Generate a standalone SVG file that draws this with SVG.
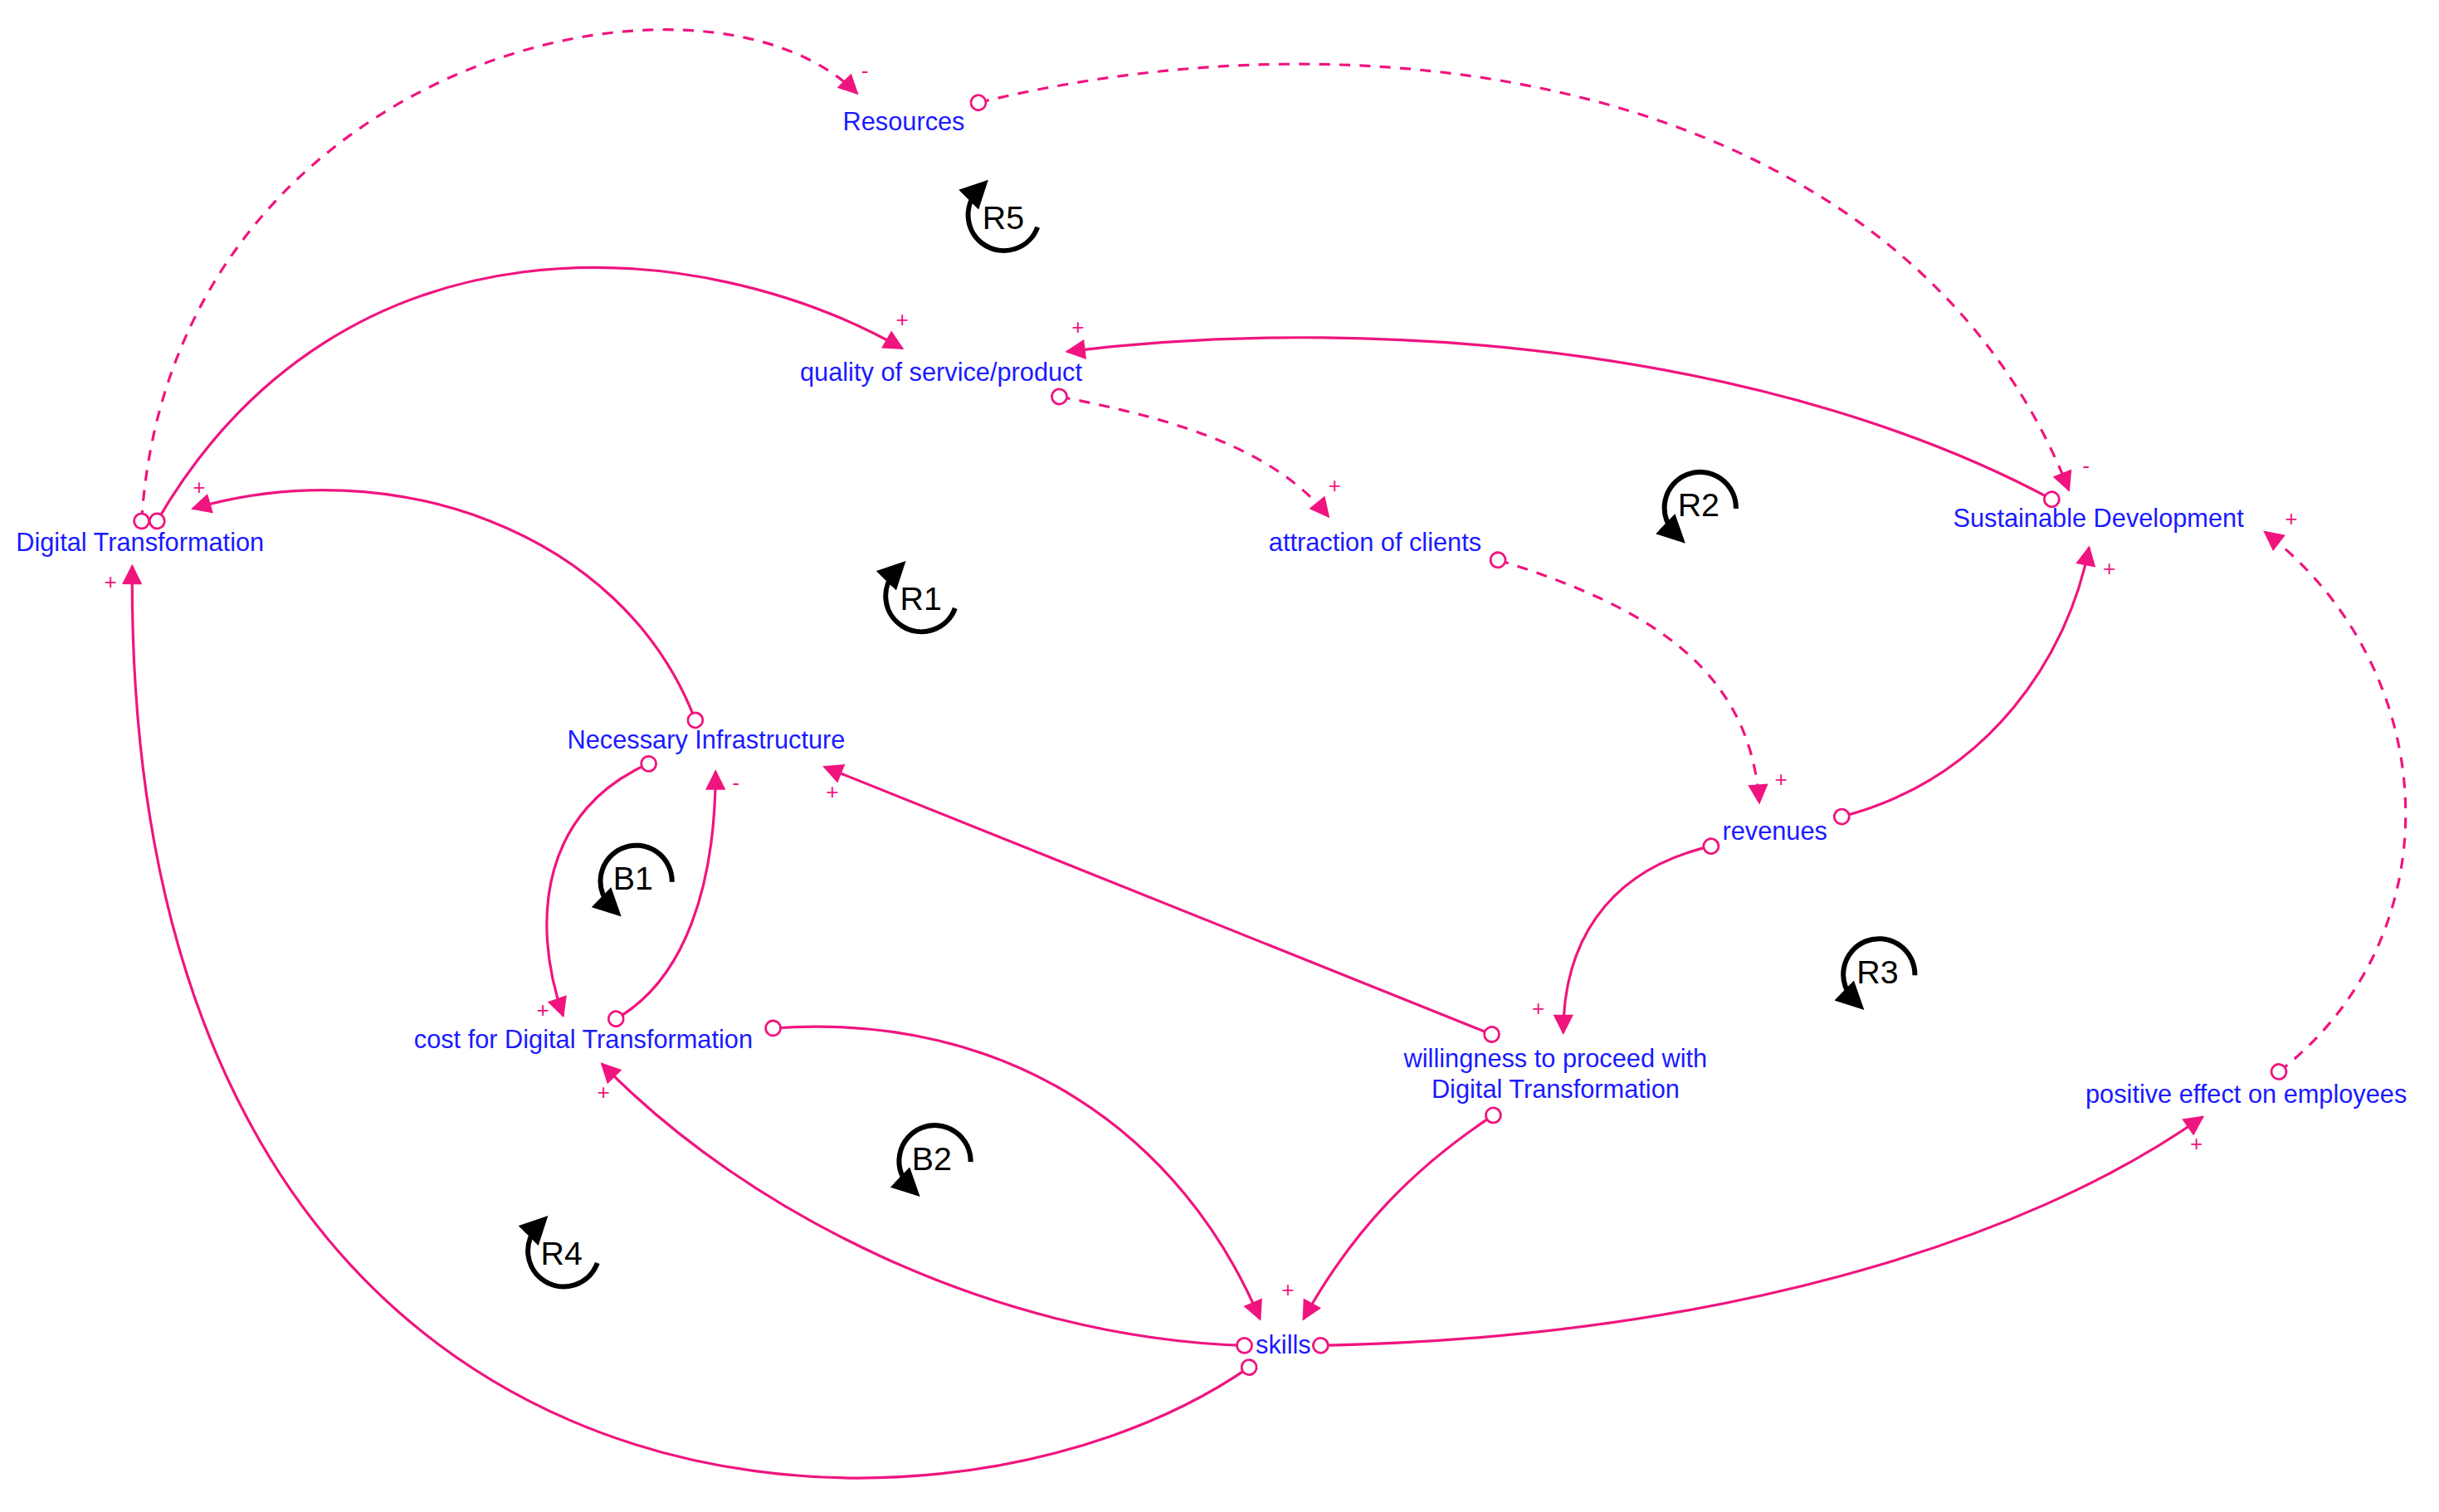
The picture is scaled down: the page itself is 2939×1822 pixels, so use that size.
<svg xmlns="http://www.w3.org/2000/svg" width="2939" height="1822" viewBox="0 0 2939 1822">
<style>
.l{fill:none;stroke:#f0147f;stroke-width:1.7}
.d{stroke-dasharray:7 6}
.t{font-family:"Liberation Sans",Arial,sans-serif;font-size:16.4px;fill:#1a1aff;text-anchor:middle}
.s{font-family:"Liberation Sans",Arial,sans-serif;font-size:14px;fill:#f0147f;text-anchor:middle}
.lp{font-family:"Liberation Sans",Arial,sans-serif;font-size:21px;fill:#000;text-anchor:middle}
.la{fill:none;stroke:#000;stroke-width:3.2}
</style>
<defs>
<marker id="a" viewBox="0 0 10 10" refX="9" refY="5" markerWidth="14" markerHeight="13" markerUnits="userSpaceOnUse" orient="auto"><path d="M0,0 L10,5 L0,10 z" fill="#f0147f"/></marker>
<marker id="o" viewBox="0 0 12 12" refX="6" refY="6" markerWidth="12" markerHeight="12" markerUnits="userSpaceOnUse" orient="auto"><circle cx="6" cy="6" r="4.8" fill="#fff" stroke="#f0147f" stroke-width="1.5"/></marker>
<marker id="k" viewBox="0 0 10 10" refX="5" refY="5" markerWidth="18" markerHeight="18" markerUnits="userSpaceOnUse" orient="auto"><path d="M0,0 L10,5 L0,10 z" fill="#000"/></marker>
<g id="ccw"><path class="la" d="M24,6 A23 23 0 1 1 -14,-18" marker-end="url(#k)"/></g>
<g id="cw"><path class="la" d="M24,2 A23 23 0 1 0 -15,18" marker-end="url(#k)"/></g>
</defs>
<rect width="2939" height="1822" fill="#fff"/>
<g transform="scale(1.8744)">
<g id="connectors">
<path class="l d" d="M91,335 C110,40 450,-40 551,60" marker-start="url(#o)" marker-end="url(#a)"/>
<path class="l d" d="M629,66 C900,0 1230,60 1330,315" marker-start="url(#o)" marker-end="url(#a)"/>
<path class="l" d="M101,335 C220,130 450,150 580,224" marker-start="url(#o)" marker-end="url(#a)"/>
<path class="l" d="M1319,321 C1150,230 900,200 686,226" marker-start="url(#o)" marker-end="url(#a)"/>
<path class="l d" d="M681,255 C760,270 820,290 854,332" marker-start="url(#o)" marker-end="url(#a)"/>
<path class="l d" d="M963,360 C1060,390 1125,430 1131,516" marker-start="url(#o)" marker-end="url(#a)"/>
<path class="l" d="M1184,525 C1280,500 1330,420 1343,352" marker-start="url(#o)" marker-end="url(#a)"/>
<path class="l" d="M447,463 C400,340 250,290 124,327" marker-start="url(#o)" marker-end="url(#a)"/>
<path class="l" d="M417,491 C350,520 340,590 362,653" marker-start="url(#o)" marker-end="url(#a)"/>
<path class="l" d="M396,655 C440,630 460,570 460,496" marker-start="url(#o)" marker-end="url(#a)"/>
<path class="l" d="M959,665 L530,493" marker-start="url(#o)" marker-end="url(#a)"/>
<path class="l" d="M1100,544 C1030,560 1005,610 1005,664" marker-start="url(#o)" marker-end="url(#a)"/>
<path class="l" d="M497,661 C650,650 760,730 810,848" marker-start="url(#o)" marker-end="url(#a)"/>
<path class="l" d="M960,717 C910,750 870,790 838,848" marker-start="url(#o)" marker-end="url(#a)"/>
<path class="l" d="M800,865 C640,860 480,780 387,684" marker-start="url(#o)" marker-end="url(#a)"/>
<path class="l" d="M849,865 C1100,860 1300,800 1416,718" marker-start="url(#o)" marker-end="url(#a)"/>
<path class="l" d="M803,879 C600,1020 80,1000 85,364" marker-start="url(#o)" marker-end="url(#a)"/>
<path class="l d" d="M1465,689 C1580,600 1570,430 1456,342" marker-start="url(#o)" marker-end="url(#a)"/>
</g>
<g id="signs">
<text class="s" x="556" y="50">-</text>
<text class="s" x="1341" y="304">-</text>
<text class="s" x="580" y="210">+</text>
<text class="s" x="693" y="215">+</text>
<text class="s" x="858" y="317">+</text>
<text class="s" x="1145" y="506">+</text>
<text class="s" x="1356" y="370">+</text>
<text class="s" x="128" y="318">+</text>
<text class="s" x="71" y="379">+</text>
<text class="s" x="349" y="654">+</text>
<text class="s" x="473" y="508">-</text>
<text class="s" x="535" y="514">+</text>
<text class="s" x="989" y="653">+</text>
<text class="s" x="828" y="834">+</text>
<text class="s" x="388" y="707">+</text>
<text class="s" x="1412" y="740">+</text>
<text class="s" x="1473" y="338">+</text>
</g>
<g id="n-resources"><text class="t" x="581" y="84">Resources</text></g>
<g id="n-quality"><text class="t" x="605" y="245">quality of service/product</text></g>
<g id="n-dt"><text class="t" x="90" y="354">Digital Transformation</text></g>
<g id="n-attraction"><text class="t" x="884" y="354">attraction of clients</text></g>
<g id="n-sd"><text class="t" x="1349" y="339">Sustainable Development</text></g>
<g id="n-infra"><text class="t" x="454" y="481">Necessary Infrastructure</text></g>
<g id="n-revenues"><text class="t" x="1141" y="540">revenues</text></g>
<g id="n-cost"><text class="t" x="375" y="674">cost for Digital Transformation</text></g>
<g id="n-willingness"><text class="t" x="1000" y="686">willingness to proceed with</text><text class="t" x="1000" y="706">Digital Transformation</text></g>
<g id="n-positive"><text class="t" x="1444" y="709">positive effect on employees</text></g>
<g id="n-skills"><text class="t" x="825" y="870">skills</text></g>
<g id="loops">
<use href="#ccw" x="643" y="140"/><text class="lp" x="645" y="147">R5</text>
<use href="#ccw" x="590" y="385"/><text class="lp" x="592" y="392">R1</text>
<use href="#ccw" x="360" y="806"/><text class="lp" x="361" y="813">R4</text>
<use href="#cw" x="1092" y="325"/><text class="lp" x="1092" y="332">R2</text>
<use href="#cw" x="408" y="565"/><text class="lp" x="407" y="572">B1</text>
<use href="#cw" x="1207" y="625"/><text class="lp" x="1207" y="632">R3</text>
<use href="#cw" x="600" y="745"/><text class="lp" x="599" y="752">B2</text>
</g>
</g>
</svg>
